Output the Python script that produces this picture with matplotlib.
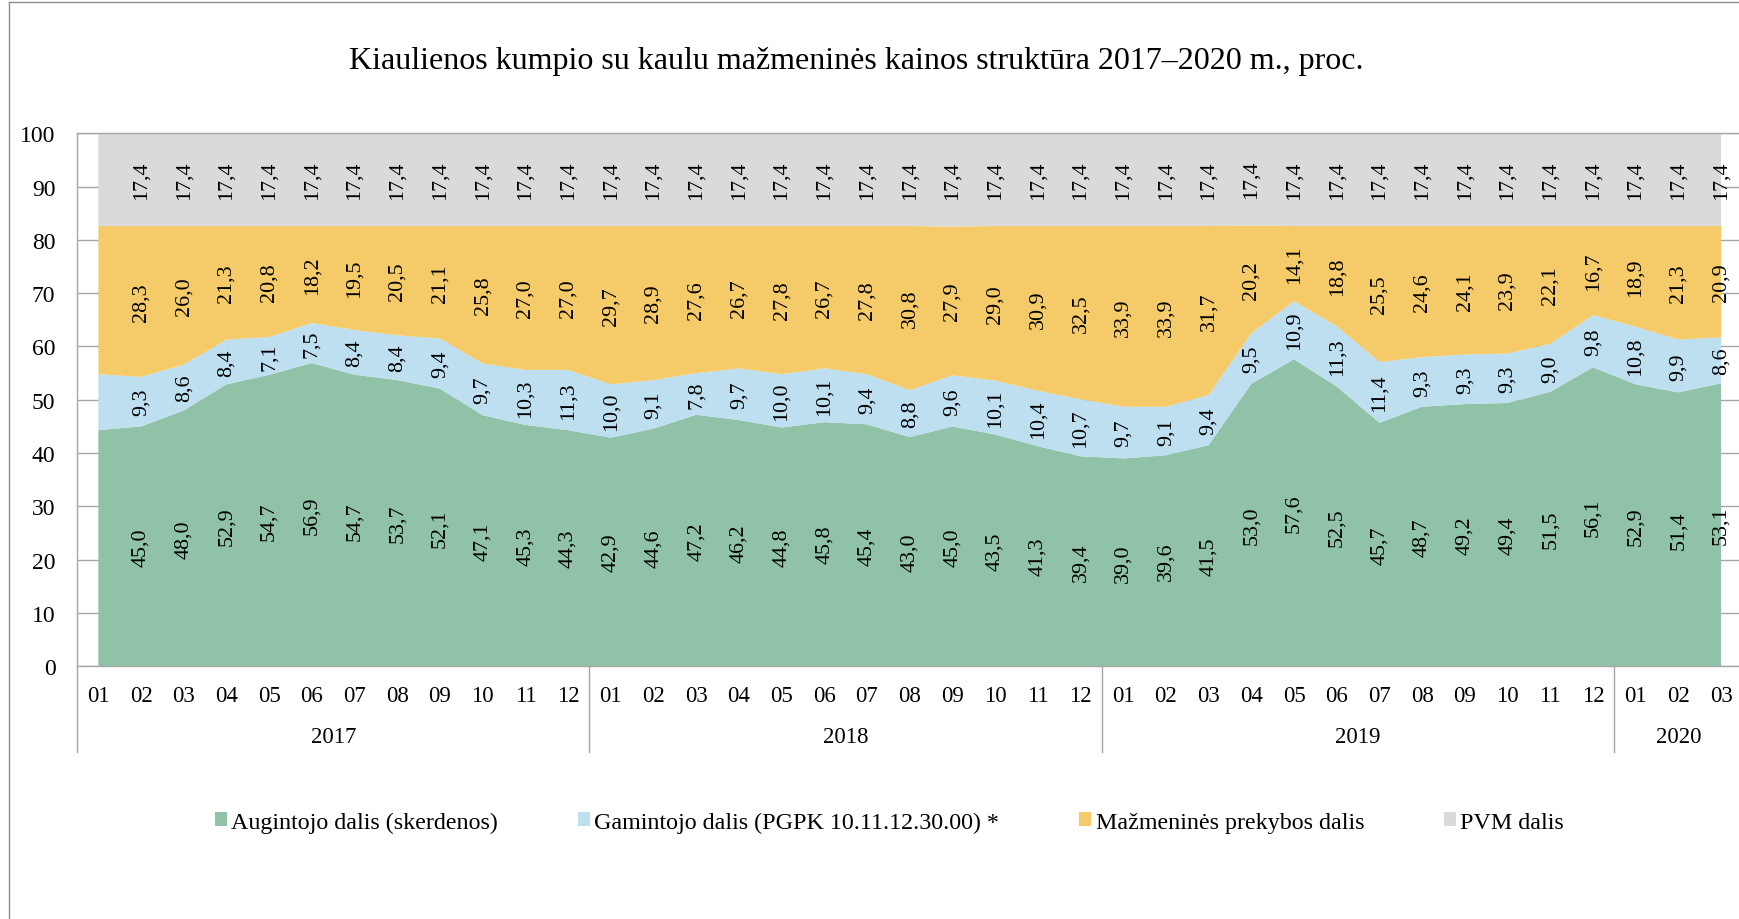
import matplotlib
matplotlib.use('Agg')
import matplotlib.pyplot as plt
import matplotlib.transforms as mtransforms
from matplotlib.lines import Line2D
from matplotlib.patches import Patch
import numpy as np

plt.rcParams['font.family'] = ['Liberation Serif', 'DejaVu Serif']

title = "Kiaulienos kumpio su kaulu mažmeninės kainos struktūra 2017–2020 m., proc."

years = ['2017', '2018', '2019', '2020']
months_per_year = [12, 12, 12, 3]
month_labels = ['01', '02', '03', '04', '05', '06', '07', '08', '09', '10', '11', '12',
                '01', '02', '03', '04', '05', '06', '07', '08', '09', '10', '11', '12',
                '01', '02', '03', '04', '05', '06', '07', '08', '09', '10', '11', '12',
                '01', '02', '03']

series_names = ['Augintojo dalis (skerdenos)',
                'Gamintojo dalis (PGPK 10.11.12.30.00) *',
                'Mažmeninės prekybos dalis',
                'PVM dalis']
series_colors = ['#8FC2A7', '#BDDFEF', '#F4CB68', '#DADADA']

augintojo = [44.3, 45.0, 48.0, 52.9, 54.7, 56.9, 54.7, 53.7, 52.1, 47.1, 45.3, 44.3,
             42.9, 44.6, 47.2, 46.2, 44.8, 45.8, 45.4, 43.0, 45.0, 43.5, 41.3, 39.4,
             39.0, 39.6, 41.5, 53.0, 57.6, 52.5, 45.7, 48.7, 49.2, 49.4, 51.5, 56.1,
             52.9, 51.4, 53.1]
gamintojo = [10.5, 9.3, 8.6, 8.4, 7.1, 7.5, 8.4, 8.4, 9.4, 9.7, 10.3, 11.3,
             10.0, 9.1, 7.8, 9.7, 10.0, 10.1, 9.4, 8.8, 9.6, 10.1, 10.4, 10.7,
             9.7, 9.1, 9.4, 9.5, 10.9, 11.3, 11.4, 9.3, 9.3, 9.3, 9.0, 9.8,
             10.8, 9.9, 8.6]
mazmenine = [27.8, 28.3, 26.0, 21.3, 20.8, 18.2, 19.5, 20.5, 21.1, 25.8, 27.0, 27.0,
             29.7, 28.9, 27.6, 26.7, 27.8, 26.7, 27.8, 30.8, 27.9, 29.0, 30.9, 32.5,
             33.9, 33.9, 31.7, 20.2, 14.1, 18.8, 25.5, 24.6, 24.1, 23.9, 22.1, 16.7,
             18.9, 21.3, 20.9]
pvm = [17.4, 17.4, 17.4, 17.4, 17.4, 17.4, 17.4, 17.4, 17.4, 17.4, 17.4, 17.4,
       17.4, 17.4, 17.4, 17.4, 17.4, 17.4, 17.4, 17.4, 17.4, 17.4, 17.4, 17.4,
       17.4, 17.4, 17.4, 17.4, 17.4, 17.4, 17.4, 17.4, 17.4, 17.4, 17.4, 17.4,
       17.4, 17.4, 17.4]
# the first month (2017-01) carries no data labels in the original
first_labelled = 1

W, H = 1740, 920
fig = plt.figure(figsize=(W / 100, H / 100), dpi=100)
ax_l, ax_r, ax_t, ax_b = 77, 1742.4, 134.3, 667.3
ax = fig.add_axes([ax_l / W, 1 - ax_b / H, (ax_r - ax_l) / W, (ax_b - ax_t) / H])

n = len(month_labels)
x = np.arange(n)
data = [augintojo, gamintojo, mazmenine, pvm]
ax.stackplot(x, *data, colors=series_colors, linewidth=0, zorder=1)

ax.set_xlim(-0.5, n - 0.5)
ax.set_ylim(0, 100)
ax.set_yticks(range(0, 101, 10))
ax.set_axisbelow(True)
grid_col = '#a6a6a6'
ax.yaxis.grid(True, color=grid_col, lw=1.0)
ax.tick_params(axis='y', length=0, pad=15.5, labelsize=17)
ax.set_xticks([])
for s in ['left', 'bottom', 'top']:
    ax.spines[s].set_color(grid_col)
    ax.spines[s].set_linewidth(1.0)
ax.spines['right'].set_visible(False)

# data labels
bottoms = np.zeros(n)
for vals in data:
    vals = np.array(vals)
    for i in range(first_labelled, n):
        ax.text(i, bottoms[i] + vals[i] / 2, f"{vals[i]:.1f}".replace('.', ','),
                rotation=90, ha='center', va='center', fontsize=15.8, zorder=5)
    bottoms += vals

# category axis (months + years)
trans = mtransforms.blended_transform_factory(ax.transData, ax.transAxes)
for i, lab in enumerate(month_labels):
    ax.text(i, -0.0557, lab, transform=trans, ha='center', va='center', fontsize=16.5)
start = 0
bounds = [-0.5]
for yr, cnt in zip(years, months_per_year):
    ax.text(start + (cnt - 1) / 2, -0.1326, yr, transform=trans,
            ha='center', va='center', fontsize=16.5)
    start += cnt
    bounds.append(start - 0.5)
for b in bounds:
    ax.add_line(Line2D([b, b], [0, -0.1608], transform=trans, color=grid_col,
                       lw=1.0, clip_on=False))

# title
fig.text(856 / W, 1 - 61 / H, title, ha='center', va='center', fontsize=23)

# legend
handles = [Patch(facecolor=c, edgecolor='none') for c in series_colors]
fig.legend(handles, series_names, loc='center', bbox_to_anchor=(889.5 / W, 1 - 823 / H),
           ncol=4, frameon=False, fontsize=17.25, handlelength=0.49, handleheight=0.49,
           handletextpad=0.2, columnspacing=3.33, borderpad=0, borderaxespad=0)

# outer chart border (cut off on right and bottom)
bx, by = 9.5, 3
fig.add_artist(Line2D([bx / W, bx / W], [0, 1 - by / H], transform=fig.transFigure,
                      color='#8c8c8c', lw=1.0))
fig.add_artist(Line2D([bx / W, 1], [1 - by / H, 1 - by / H], transform=fig.transFigure,
                      color='#8c8c8c', lw=1.0))

fig.savefig('out.png', dpi=100, facecolor='white')
